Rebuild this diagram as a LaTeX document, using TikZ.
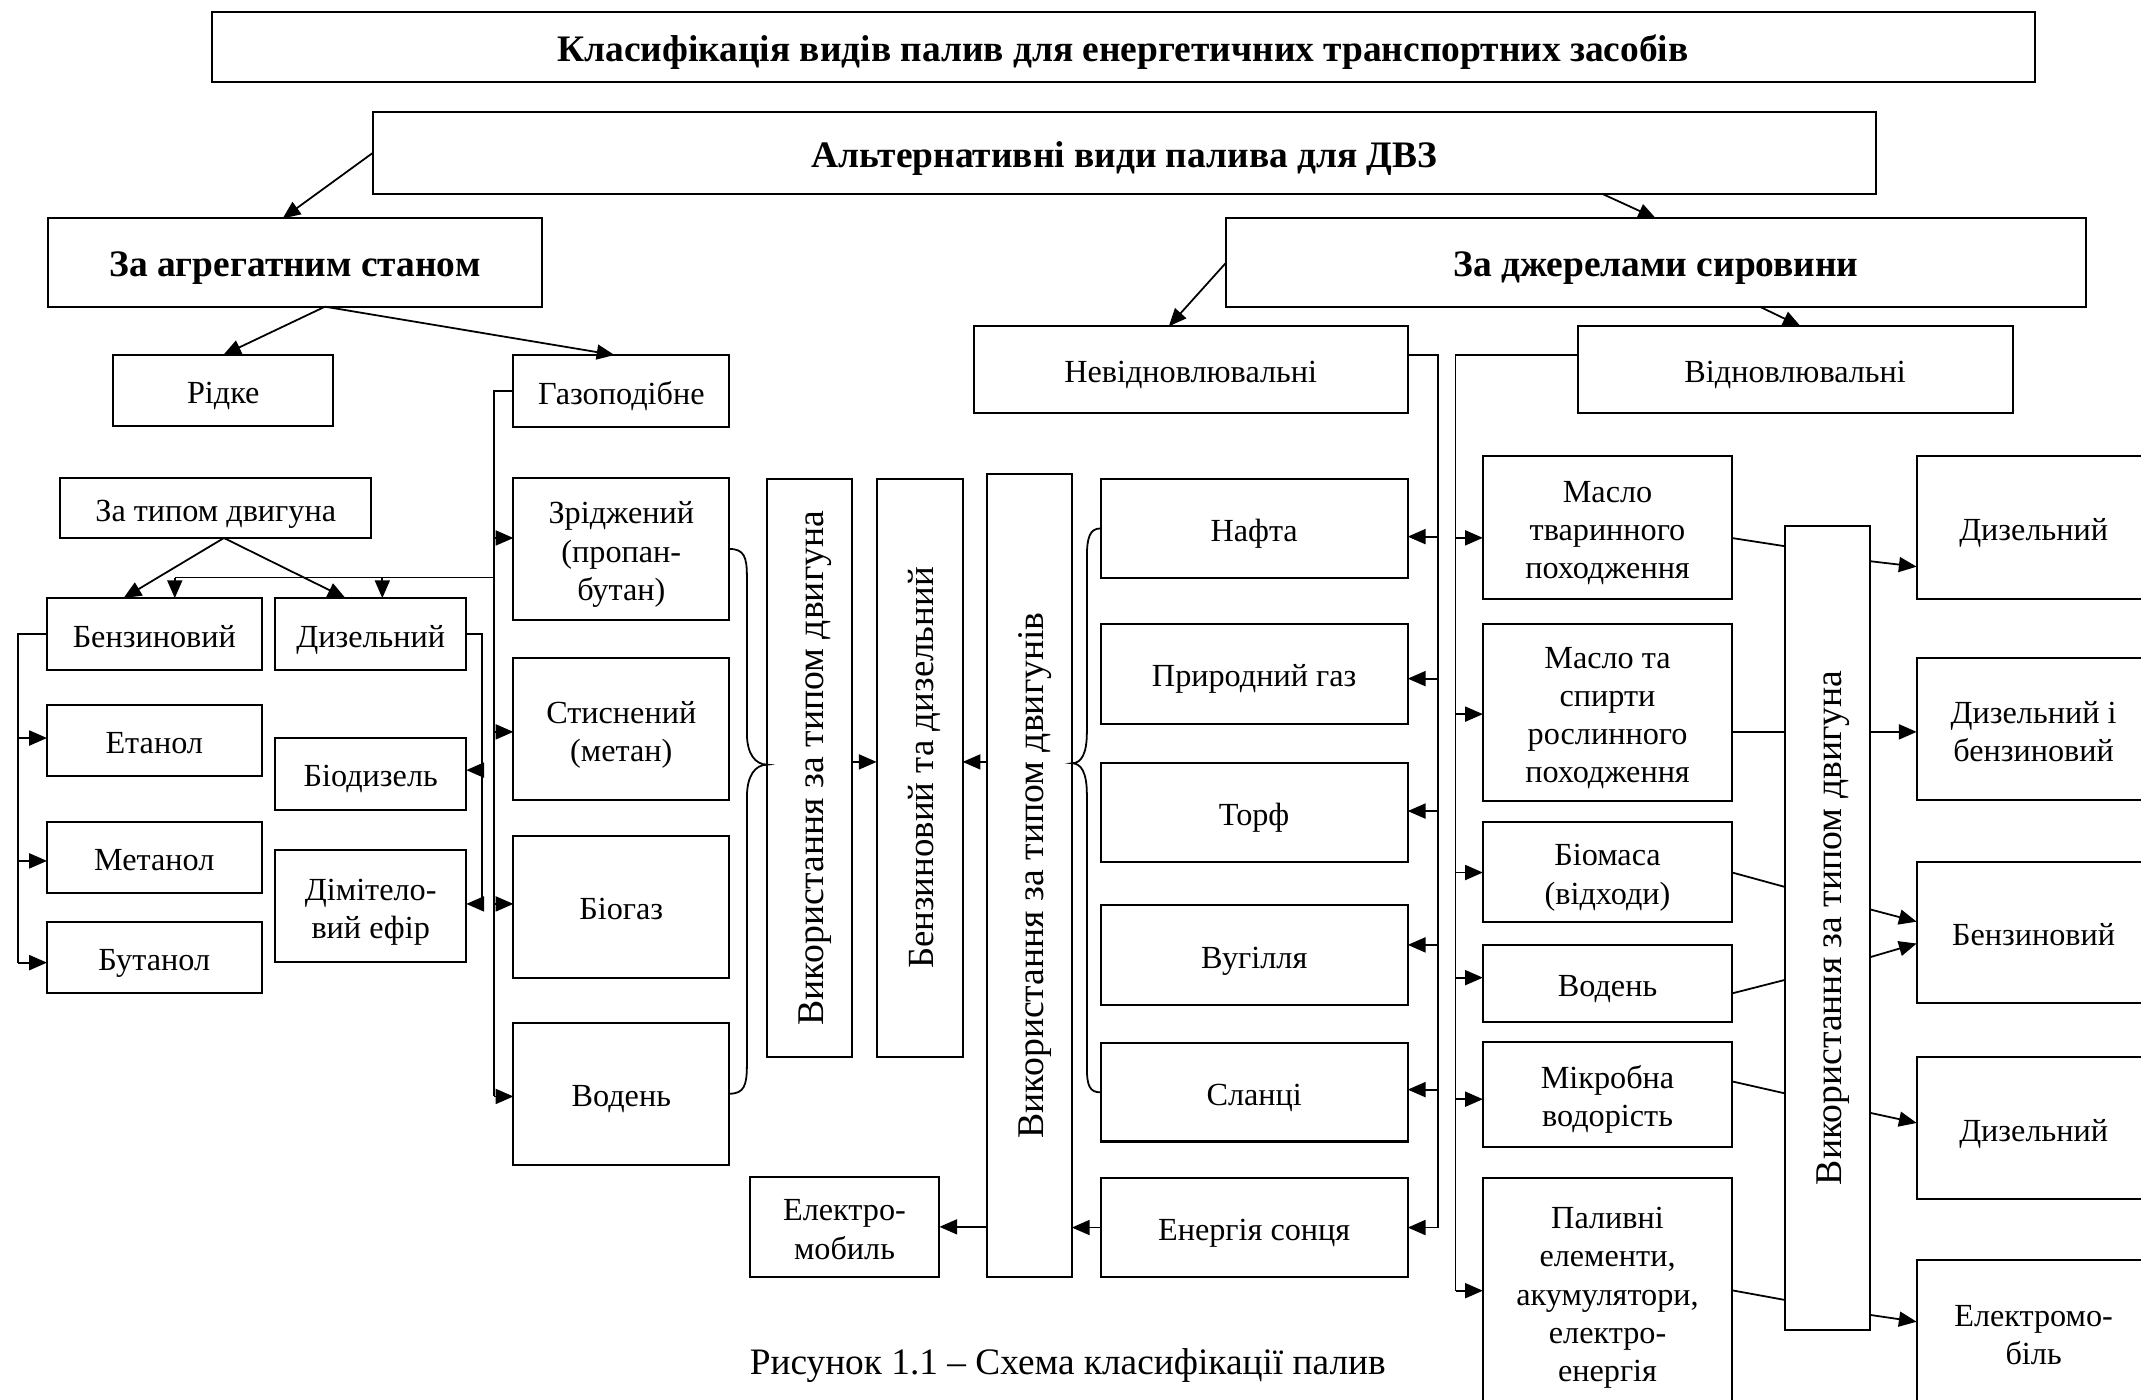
\documentclass[tikz,border=0pt]{standalone}
\usepackage{fontspec}
\setmainfont{Liberation Serif}
\usetikzlibrary{arrows.meta,calc}
% box text: centred lines, set slightly low inside the frame
\newcommand\boxlabel[1]{\raisebox{-4pt}[\height][\depth]{\begin{tabular}{@{}c@{}}#1\end{tabular}}}
\newcommand\collabel[1]{\rotatebox{90}{\boxlabel{#1}}}
\begin{document}
\begin{tikzpicture}[x=1pt,y=-1pt,
  box/.style={draw, line width=1.5pt, inner sep=0pt, outer sep=0pt,
    font=\fontsize{23.6}{28}\selectfont},
  headbox/.style={box, font=\fontsize{27.4}{32}\selectfont\bfseries},
  colbox/.style={box, font=\fontsize{27.6}{32}\selectfont},
  link/.style={line width=1.3pt},
  arr/.style={link, -{Triangle[length=13pt,width=11pt]}}]
\useasboundingbox (0,0) rectangle (1568,1025);

% --- top levels ---
\node[headbox, minimum width=1335pt, minimum height=51pt] (title) at (822.5,34.5)
  {\boxlabel{Класифікація видів палив для енергетичних транспортних засобів}};
\node[headbox, minimum width=1101pt, minimum height=60pt] (alt) at (823.5,112)
  {\boxlabel{Альтернативні види палива для ДВЗ}};
\node[headbox, minimum width=362pt, minimum height=64.6pt] (agr) at (216,192.3)
  {\boxlabel{За агрегатним станом}};
\node[headbox, minimum width=629.5pt, minimum height=64.6pt] (dz) at (1212.75,192.3)
  {\boxlabel{За джерелами сировини}};
\node[box, minimum width=318pt, minimum height=63.6pt] (nev) at (872,270.8) {\boxlabel{Невідновлювальні}};
\node[box, minimum width=318.6pt, minimum height=63.6pt] (vid) at (1314.7,270.8) {\boxlabel{Відновлювальні}};

% --- aggregate state ---
\node[box, minimum width=161pt, minimum height=52pt] (ridke) at (163.5,286) {\boxlabel{Рідке}};
\node[box, minimum width=158pt, minimum height=53pt] (gas) at (455,286.5) {\boxlabel{Газоподібне}};
\node[box, minimum width=228pt, minimum height=44pt] (tp) at (158,372) {\boxlabel{За типом двигуна}};
\node[box, minimum width=157.2pt, minimum height=53pt] (bz1) at (113,464.5) {\boxlabel{Бензиновий}};
\node[box, minimum width=140pt, minimum height=53pt] (ds1) at (271.5,464.5) {\boxlabel{Дизельний}};
\node[box, minimum width=157.2pt, minimum height=52pt] (et) at (113,542) {\boxlabel{Етанол}};
\node[box, minimum width=157.2pt, minimum height=52pt] (mt1) at (113,628) {\boxlabel{Метанол}};
\node[box, minimum width=157.2pt, minimum height=52pt] (bt) at (113,701) {\boxlabel{Бутанол}};
\node[box, minimum width=140pt, minimum height=52.5pt] (bd) at (271.5,566.75) {\boxlabel{Біодизель}};
\node[box, minimum width=140pt, minimum height=82pt] (dme) at (271.5,663.6) {\boxlabel{Дімітело-\\вий ефір}};

\node[box, minimum width=158pt, minimum height=104pt] (zr) at (455,402) {\boxlabel{Зріджений\\(пропан-\\бутан)}};
\node[box, minimum width=158pt, minimum height=104pt] (st) at (455,534) {\boxlabel{Стиснений\\(метан)}};
\node[box, minimum width=158pt, minimum height=104pt] (bg) at (455,664) {\boxlabel{Біогаз}};
\node[box, minimum width=158pt, minimum height=104pt] (vod) at (455,801) {\boxlabel{Водень}};

% --- usage columns ---
\node[colbox, minimum width=62pt, minimum height=423pt] (col1) at (593,562.5)
  {\collabel{Використання за типом двигуна}};
\node[colbox, font=\fontsize{27}{32}\selectfont, minimum width=63pt, minimum height=423pt] (col2) at (673.5,562.5)
  {\collabel{Бензиновий та дизельний}};
\node[colbox, minimum width=62pt, minimum height=588pt] (col3) at (754,641)
  {\collabel{Використання за типом двигунів}};
\node[box, minimum width=139pt, minimum height=73pt] (el) at (618.5,898.5) {\boxlabel{Електро-\\мобиль}};

% --- non-renewable sources ---
\node[box, minimum width=225pt, minimum height=72pt] (nafta) at (918.5,387) {\boxlabel{Нафта}};
\node[box, minimum width=225pt, minimum height=73pt] (pg) at (918.5,493.5) {\boxlabel{Природний газ}};
\node[box, minimum width=225pt, minimum height=72pt] (torf) at (918.5,595) {\boxlabel{Торф}};
\node[box, minimum width=225pt, minimum height=73pt] (vug) at (918.5,699.5) {\boxlabel{Вугілля}};
\node[box, minimum width=225pt, minimum height=72pt] (sl) at (918.5,800) {\boxlabel{Сланці}};
\node[box, minimum width=225pt, minimum height=72pt] (sun) at (918.5,899) {\boxlabel{Енергія сонця}};

% --- renewable sources ---
\node[box, minimum width=182.6pt, minimum height=104.7pt] (mt) at (1177.3,386.4) {\boxlabel{Масло\\тваринного\\походження}};
\node[box, minimum width=182.6pt, minimum height=129.4pt] (ms) at (1177.3,521.7) {\boxlabel{Масло та\\спирти\\рослинного\\походження}};
\node[box, minimum width=182.6pt, minimum height=73pt] (bm) at (1177.3,638.5) {\boxlabel{Біомаса\\(відходи)}};
\node[box, minimum width=182.6pt, minimum height=56.6pt] (vd2) at (1177.3,720.3) {\boxlabel{Водень}};
\node[box, minimum width=182.6pt, minimum height=77pt] (mk) at (1177.3,801.5) {\boxlabel{Мікробна\\водорість}};
\node[box, minimum width=182.6pt, minimum height=167.5pt] (pe) at (1177.3,946.25) {\boxlabel{Паливні\\елементи,\\акумулятори,\\електро-\\енергія}};
\node[colbox, minimum width=62.6pt, minimum height=589pt] (col4) at (1338.3,679.5)
  {\collabel{Використання за типом двигуна}};

% --- engine targets (running off the right edge) ---
\node[box, minimum width=171.3pt, minimum height=104.7pt] (d1) at (1489.35,386.35) {\boxlabel{Дизельний}};
\node[box, minimum width=171.3pt, minimum height=104pt] (db) at (1489.35,534) {\boxlabel{Дизельний і\\бензиновий}};
\node[box, minimum width=171.3pt, minimum height=103pt] (bz) at (1489.35,683) {\boxlabel{Бензиновий}};
\node[box, minimum width=171.3pt, minimum height=103.6pt] (d2) at (1489.35,826.2) {\boxlabel{Дизельний}};
\node[box, minimum width=171.3pt, minimum height=106pt] (em) at (1489.35,976) {\boxlabel{Електромо-\\біль}};

\node[font=\fontsize{27.35}{32}\selectfont] (cap) at (782,1000) {Рисунок 1.1 – Схема класифікації палив};

% --- upper connectors ---
\draw[arr] (alt.west) -- ($(agr.north west)+(172,0)$);
\draw[arr] ($(alt.south)+(350,0)$) -- (dz.north);
\draw[arr] (dz.west) -- ($(nev.north)+(-16,0)$);
\draw[arr] ($(dz.south)+(76,0)$) -- ($(vid.north)+(4,0)$);
\coordinate (agrs) at ($(agr.south)+(22,0)$);
\draw[arr] (agrs) -- (ridke.north);
\draw[arr] (agrs) -- ($(gas.north)+(-5,0)$);

% --- gaseous fuels bus ---
\draw[link] (gas.west) -- ($(gas.west)+(-14,0)$) -- ($(vod.west)+(-14,2)$);
\draw[arr] ($(zr.west)+(-14,-8)$) -- ($(zr.west)+(0,-8)$);
\draw[arr] ($(st.west)+(-14,2)$) -- ($(st.west)+(0,2)$);
\draw[arr] ($(bg.west)+(-14,-2)$) -- ($(bg.west)+(0,-2)$);
\draw[arr] ($(vod.west)+(-14,2)$) -- ($(vod.west)+(0,2)$);
\draw[link] ($(zr.west)+(-14,21)$) -- ($(bz1.north)+(15,-15)$);
\draw[arr] ($(bz1.north)+(15,-15)$) -- ($(bz1.north)+(15,0)$);
\draw[arr] ($(ds1.north)+(8.5,-15)$) -- ($(ds1.north)+(8.5,0)$);

% --- engine type split ---
\coordinate (tps) at ($(tp.south)+(6,0)$);
\draw[arr] (tps) -- ($(bz1.north)+(-22.5,0)$);
\draw[arr] (tps) -- ($(ds1.north)+(-18.5,0)$);

\draw[link] (bz1.west) -- ($(bz1.west)+(-21,0)$) -- ($(bt.west)+(-21,4)$);
\draw[arr] ($(et.west)+(-21,-1.5)$) -- ($(et.west)+(0,-1.5)$);
\draw[arr] ($(mt1.west)+(-21,2.5)$) -- ($(mt1.west)+(0,2.5)$);
\draw[arr] ($(bt.west)+(-21,4)$) -- ($(bt.west)+(0,4)$);

\draw[link] (ds1.east) -- ($(ds1.east)+(11.5,0)$) -- ($(dme.east)+(11.5,-1.6)$);
\draw[arr] ($(bd.east)+(11.5,-2.75)$) -- ($(bd.east)+(0,-2.75)$);
\draw[arr] ($(dme.east)+(11.5,-1.6)$) -- ($(dme.east)+(0,-1.6)$);

% --- braces ---
\draw[link] (zr.east) .. controls (545,402) and (547,408) .. (547,422)
  -- (547,537) .. controls (547,552) and (553,560) .. ($(col1.west)+(0,-2.5)$)
  .. controls (553,560) and (547,568) .. (547,584)
  -- (547,780) .. controls (547,795) and (545,801) .. (vod.east);
\draw[link] (nafta.west) .. controls (798,387) and (796,394) .. (796,408)
  -- (796,536) .. controls (796,552) and (792,559) .. ($(col3.east)+(0,-82)$)
  .. controls (792,559) and (796,566) .. (796,582)
  -- (796,782) .. controls (796,795) and (798,800) .. (sl.west);

% --- usage column links ---
\coordinate (c2e) at ($(col2.east)+(0,-4.5)$);
\draw[arr] ($(col1.east)+(0,-4.5)$) -- ($(col2.west)+(0,-4.5)$);
\draw[arr] (col3.west |- c2e) -- (c2e);
\draw[arr] (col3.west |- el.east) -- (el.east);
\draw[arr] (sun.west) -- (sun.west -| col3.east);

% --- non-renewable bus ---
\coordinate (busN) at (1053,260);
\draw[link] (nev.east |- busN) -- (busN) -- ($(sun.east)+(22,0)$);
\draw[arr] ($(nafta.east)+(22,6)$) -- ($(nafta.east)+(0,6)$);
\draw[arr] ($(pg.east)+(22,3.5)$) -- ($(pg.east)+(0,3.5)$);
\draw[arr] ($(torf.east)+(22,-1)$) -- ($(torf.east)+(0,-1)$);
\draw[arr] ($(vug.east)+(22,-7.5)$) -- ($(vug.east)+(0,-7.5)$);
\draw[arr] ($(sl.east)+(22,-2)$) -- ($(sl.east)+(0,-2)$);
\draw[arr] ($(sun.east)+(22,0)$) -- (sun.east);

% --- renewable bus ---
\coordinate (busR) at (1066,260);
\draw[link] (vid.west |- busR) -- (busR) -- ($(pe.west)+(-20,-1)$);
\draw[arr] ($(mt.west)+(-20,7.5)$) -- ($(mt.west)+(0,7.5)$);
\draw[arr] ($(ms.west)+(-20,1.3)$) -- ($(ms.west)+(0,1.3)$);
\draw[arr] ($(bm.west)+(-20,0.5)$) -- ($(bm.west)+(0,0.5)$);
\draw[arr] ($(vd2.west)+(-20,-4.3)$) -- ($(vd2.west)+(0,-4.3)$);
\draw[arr] ($(mk.west)+(-20,3.5)$) -- ($(mk.west)+(0,3.5)$);
\draw[arr] ($(pe.west)+(-20,-1)$) -- ($(pe.west)+(0,-1)$);

% --- renewable sources into the usage column ---
\draw[link] ($(mt.north east)+(0,60)$) -- ($(col4.north west)+(0,15)$);
\draw[link] ($(ms.north east)+(0,79)$) -- ($(col4.north west)+(0,151)$);
\draw[link] ($(bm.north east)+(0,37)$) -- ($(col4.north west)+(0,264.5)$);
\draw[link] ($(vd2.north east)+(0,35.5)$) -- ($(col4.north west)+(0,332.7)$);
\draw[link] ($(mk.north east)+(0,29)$) -- ($(col4.north west)+(0,415.7)$);
\draw[link] ($(pe.north east)+(0,82.5)$) -- ($(col4.north west)+(0,567)$);

% --- usage column to engines ---
\draw[arr] ($(col4.north east)+(0,26)$) -- ($(d1.north west)+(0,81)$);
\draw[arr] ($(col4.north east)+(0,151)$) -- ($(db.north west)+(0,54)$);
\draw[arr] ($(col4.north east)+(0,281)$) -- ($(bz.north west)+(0,43.5)$);
\draw[arr] ($(col4.north east)+(0,316)$) -- ($(bz.north west)+(0,59.5)$);
\draw[arr] ($(col4.north east)+(0,430)$) -- ($(d2.north west)+(0,48)$);
\draw[arr] ($(col4.north east)+(0,578)$) -- ($(em.north west)+(0,45)$);
\end{tikzpicture}
\end{document}
